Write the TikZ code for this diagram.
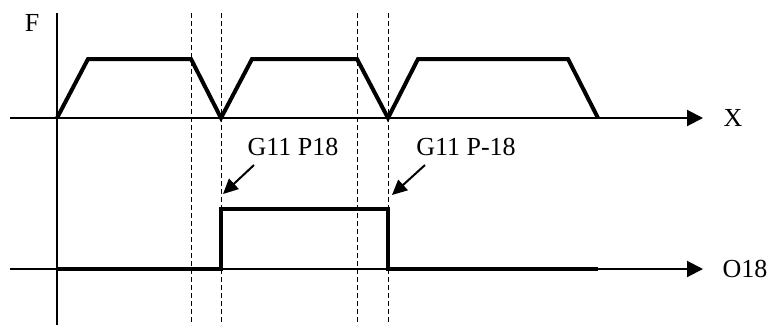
\documentclass[tikz,border=0pt]{standalone}
\usepackage{fontspec}
\setmainfont{Liberation Serif}
\usetikzlibrary{arrows.meta}
\begin{document}
\begin{tikzpicture}[x=1pt,y=-1pt,
  axisline/.style={line width=2pt, -{Triangle[length=16pt,width=16pt]}},
  plainaxis/.style={line width=2pt},
  sig/.style={line width=4pt, line join=miter},
  guide/.style={line width=0.8pt, dash pattern=on 5pt off 3pt},
  lbl/.style={font=\fontsize{26}{30}\selectfont, inner sep=0pt},
  callout/.style={line width=2pt, -{Triangle[length=15pt,width=14pt]}}]
\useasboundingbox (0,0) rectangle (770,325);
% guide lines
\foreach \gx in {191,221,357,388} \draw[guide] (\gx,13) -- (\gx,325);
% axes
\draw[plainaxis] (57,13) -- (57,325);
\coordinate (xs) at (10,118); \coordinate (xe) at (703,118);
\coordinate (os) at (10,269); \coordinate (oe) at (703,269);
\draw[axisline] (xs) -- (xe);
\draw[axisline] (os) -- (oe);
% labels
\node[lbl] (lF) at (32,23) {F};
\node[lbl] (lX) at (733,118) {X};
\node[lbl] (lO) at (745,269) {O18};
\node[lbl] (lA) at (293,147) {G11 P18};
\node[lbl] (lB) at (466,147) {G11 P-18};
% feed signal
\draw[sig] (57,118) -- (88,59) -- (191,59) -- (221,118) -- (252,59) -- (357,59)
  -- (388,118) -- (418,59) -- (568,59) -- (598,118);
% output signal
\draw[sig] (57,269) -- (221,269) -- (221,209) -- (388,209) -- (388,269) -- (598,269);
% callouts
\coordinate (a1) at (254,165); \coordinate (a2) at (223,194);
\coordinate (b1) at (425,165); \coordinate (b2) at (392,195);
\draw[callout] (a1) -- (a2);
\draw[callout] (b1) -- (b2);
\end{tikzpicture}
\end{document}
